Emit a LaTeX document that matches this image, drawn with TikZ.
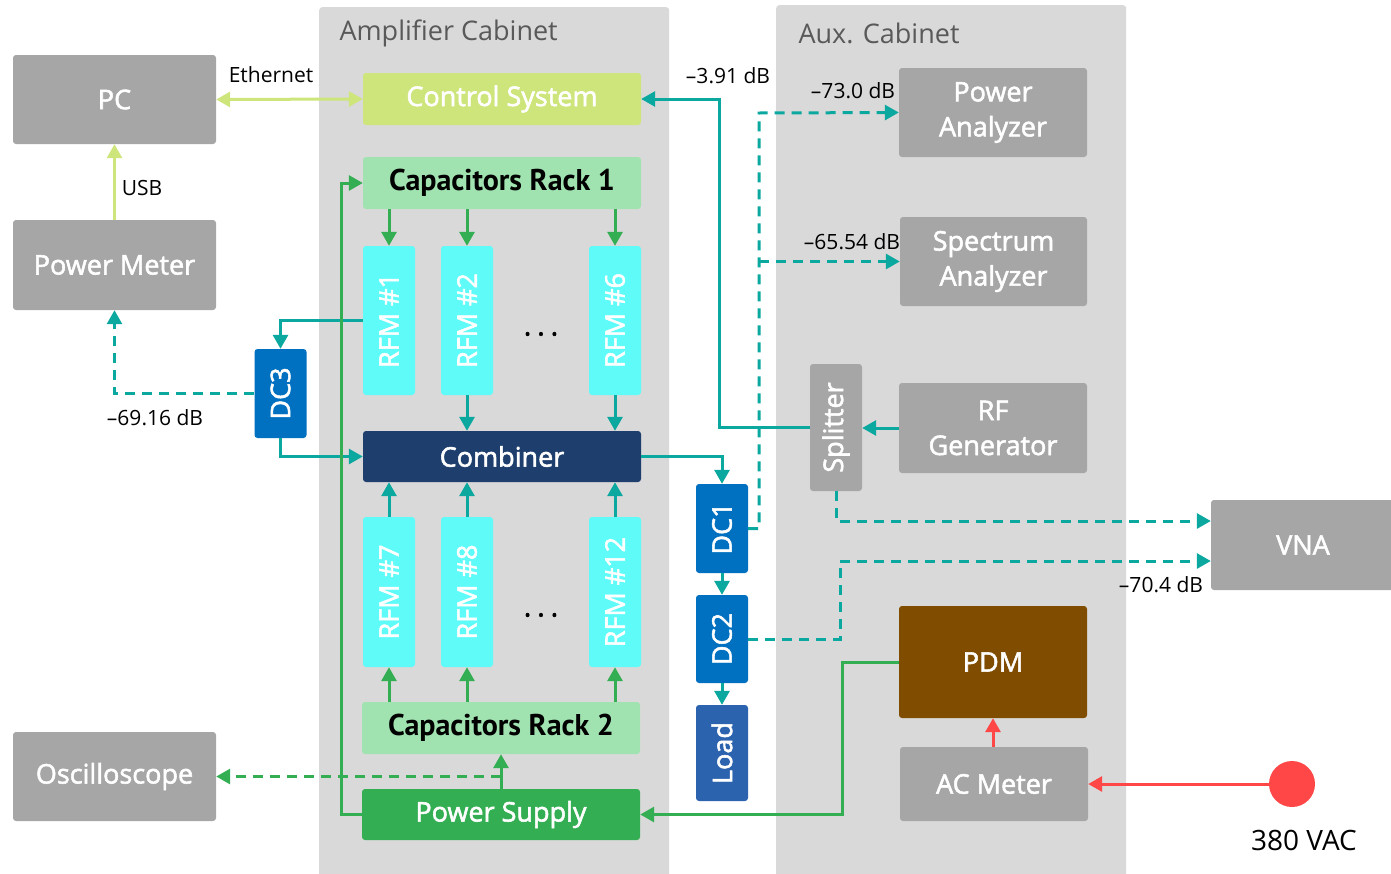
\documentclass[tikz,border=0pt]{standalone}
\usepackage{fontspec}
\setmainfont{Open Sans}
\newfontfamily\boxfont[FakeBold=2]{Open Sans}
\newfontfamily\rackfont{PT Sans}
\usetikzlibrary{arrows.meta}

\definecolor{boxgray}{HTML}{A6A6A6}
\definecolor{cabgray}{HTML}{D9D9D9}
\definecolor{cabtext}{HTML}{595959}
\definecolor{ctrlgreen}{HTML}{CDE57B}
\definecolor{capgreen}{HTML}{A0E3B0}
\definecolor{rfmcyan}{HTML}{5FFBF9}
\definecolor{combnavy}{HTML}{1E3F6E}
\definecolor{psgreen}{HTML}{33AE52}
\definecolor{dcblue}{HTML}{0070C0}
\definecolor{loadblue}{HTML}{2B63AE}
\definecolor{pdmbrown}{HTML}{7F4C00}
\definecolor{rfteal}{HTML}{0AA89E}
\definecolor{acred}{HTML}{FF4747}

\tikzset{
  sz/.style 2 args={minimum width=#1pt, minimum height=#2pt},
  blk/.style={rounded corners=3pt, inner sep=0pt, align=center,
    font=\boxfont\fontsize{27}{35}\selectfont, text=white},
  graybox/.style={blk, fill=boxgray},
  rfmbox/.style={blk, fill=rfmcyan, sz={52}{150}},
  capbox/.style={blk, fill=capgreen, text=black, sz={278}{52},
    font=\rackfont\fontsize{30}{32}\selectfont\bfseries},
  dcbox/.style={blk, fill=dcblue, sz={52}{89}},
  cabinet/.style={fill=cabgray, rounded corners=3pt, inner sep=0pt},
  cabtitle/.style={anchor=west, text=cabtext, font=\fontsize{27}{30}\selectfont},
  lbl/.style={font=\fontsize{21}{24}\selectfont, text=black, inner sep=0pt},
  dotrow/.style={font=\boxfont\fontsize{28}{32}\selectfont, inner sep=0pt},
  tip/.style={-{Triangle[length=14pt,width=15pt]}},
  rfline/.style={draw=rfteal, line width=3pt, tip},
  rfdash/.style={rfline, dash pattern=on 10pt off 7pt},
  dcline/.style={draw=psgreen, line width=3pt, tip},
  dcdash/.style={dcline, dash pattern=on 10pt off 7pt},
  dataline/.style={draw=ctrlgreen, line width=3pt, tip},
  acline/.style={draw=acred, line width=3pt, tip},
}

\begin{document}
\begin{tikzpicture}[x=1pt, y=-1pt]
\useasboundingbox (0,0) rectangle (1391,873);

% cabinets
\node[cabinet, sz={350}{880}, anchor=north west] (ampcab) at (319,7) {};
\node[cabinet, sz={350}{880}, anchor=north west] (auxcab) at (776,5) {};
\node[cabtitle] (amptitle) at (336,33) {Amplifier Cabinet};
\node[cabtitle] (auxtitle) at (795,33) {Aux. Cabinet};

% instruments outside the cabinets
\node[graybox, sz={203}{89}] (pc) at (114.5,99.5) {PC};
\node[graybox, sz={203}{90}] (pm) at (114.5,265) {Power Meter};
\node[graybox, sz={203}{89}] (osc) at (114.5,776.5) {Oscilloscope};
\node[graybox, sz={184}{90}] (vna) at (1303,545) {VNA};

% amplifier cabinet
\node[blk, fill=ctrlgreen, sz={278}{52}] (cs) at (502,99) {Control System};
\node[capbox] (cr1) at (502,183) {Capacitors Rack 1};
\node[rfmbox, sz={52}{149}] (r1) at (389,320.5) {\rotatebox{90}{RFM \#1}};
\node[rfmbox, sz={52}{149}] (r2) at (467,320.5) {\rotatebox{90}{RFM \#2}};
\node[rfmbox, sz={52}{149}] (r6) at (615,320.5) {\rotatebox{90}{RFM \#6}};
\node[dotrow] (dots1) at (541,334) {.\kern6pt.\kern6pt.};
\node[blk, fill=combnavy, sz={278}{51}] (comb) at (502,456.5) {Combiner};
\node[rfmbox] (r7) at (389,592) {\rotatebox{90}{RFM \#7}};
\node[rfmbox] (r8) at (467,592) {\rotatebox{90}{RFM \#8}};
\node[rfmbox] (r12) at (615,592) {\rotatebox{90}{RFM \#12}};
\node[dotrow] (dots2) at (541,615) {.\kern6pt.\kern6pt.};
\node[capbox] (cr2) at (501,728) {Capacitors Rack 2};
\node[blk, fill=psgreen, sz={278}{51}] (ps) at (501,814.5) {Power Supply};

% directional couplers and load
\node[dcbox] (dc3) at (280.5,393.5) {\rotatebox{90}{DC3}};
\node[dcbox] (dc1) at (722,528.5) {\rotatebox{90}{DC1}};
\node[dcbox, sz={52}{88}] (dc2) at (722,639) {\rotatebox{90}{DC2}};
\node[blk, fill=loadblue, sz={52}{96}] (load) at (722,753) {\rotatebox{90}{Load}};

% aux cabinet
\node[graybox, sz={188}{89}] (pa) at (993,112.5) {Power\\Analyzer};
\node[graybox, sz={187}{89}] (sa) at (993.5,261.5) {Spectrum\\Analyzer};
\node[graybox, sz={52}{127}] (split) at (836,427.5) {\rotatebox{90}{Splitter}};
\node[graybox, sz={188}{90}] (rfg) at (993,428) {RF\\Generator};
\node[blk, fill=pdmbrown, sz={188}{112}] (pdm) at (993,662) {PDM};
\node[graybox, sz={188}{74}] (ac) at (994,784) {AC Meter};

% mains supply
\node[circle, fill=acred, minimum size=46pt, inner sep=0pt] (vac) at (1292,784) {};
\node[lbl, font=\fontsize{28}{30}\selectfont] (vaclbl) at (1304,840) {380 VAC};

% bend points
\coordinate (ctrlbend) at (719,99);
\coordinate (meastap) at (759,113);
\coordinate (satap) at (759,261.5);
\coordinate (dc2bend) at (840,639);
\coordinate (pdmbend) at (842,740);
\coordinate (psbend) at (341,500);
\coordinate (osctap) at (501,776.5);

% data links
\draw[dataline, {Triangle[length=14pt,width=15pt]}-{Triangle[length=14pt,width=15pt]}] (pc.east) -- (cs.west);
\node[lbl] (ethlbl) at (271,75) {Ethernet};
\draw[dataline] (pm.north) -- (pc.south);
\node[lbl] (usblbl) at (142,188) {USB};

% RF chain
\draw[rfline] (r1.west) -| (dc3.north);
\draw[rfline] (dc3.south) |- (comb.west);
\draw[rfline] (r2.south) -- (r2.south |- comb.north);
\draw[rfline] (r6.south) -- (r6.south |- comb.north);
\draw[rfline] (r7.north) -- (r7.north |- comb.south);
\draw[rfline] (r8.north) -- (r8.north |- comb.south);
\draw[rfline] (r12.north) -- (r12.north |- comb.south);
\draw[rfline] (comb.east) -| (dc1.north);
\draw[rfline] (dc1.south) -- (dc2.north);
\draw[rfline] (dc2.south) -- (load.north);
\draw[rfline] (rfg.west) -- (rfg.west -| split.east);
\draw[rfline] (split.west) -| (ctrlbend) -- (cs.east);
\node[lbl] (l391) at (728,76) {–3.91 dB};

% sampled signals
\draw[rfdash] (dc3.west) -| (pm.south);
\node[lbl] (l6916) at (155,418) {–69.16 dB};
\draw[rfdash] (dc1.east) -| (meastap) -- (pa.west);
\draw[rfdash] (satap) -- (sa.west);
\node[lbl] (l730) at (853,91) {–73.0 dB};
\node[lbl] (l6554) at (852,242) {–65.54 dB};
\draw[rfdash] (split.south) |- ([yshift=24pt]vna.west);
\draw[rfdash] (dc2.east) -- (dc2bend) |- ([yshift=-16pt]vna.west);
\node[lbl] (l704) at (1161,585) {–70.4 dB};

% DC power
\draw[dcline] (r1.north |- cr1.south) -- (r1.north);
\draw[dcline] (r2.north |- cr1.south) -- (r2.north);
\draw[dcline] (r6.north |- cr1.south) -- (r6.north);
\draw[dcline] (r7.south |- cr2.north) -- (r7.south);
\draw[dcline] (r8.south |- cr2.north) -- (r8.south);
\draw[dcline] (r12.south |- cr2.north) -- (r12.south);
\draw[dcline] (ps.north) -- (cr2.south);
\draw[dcline] (ps.west) -| (psbend) |- (cr1.west);
\draw[dcdash] (osctap) -- (osc.east);
\draw[dcline] (pdm.west) -| (pdmbend) |- (ps.east);

% mains
\draw[acline] (ac.north -| pdm.south) -- (pdm.south);
\draw[acline] (vac) -- (ac.east);
\end{tikzpicture}
\end{document}
